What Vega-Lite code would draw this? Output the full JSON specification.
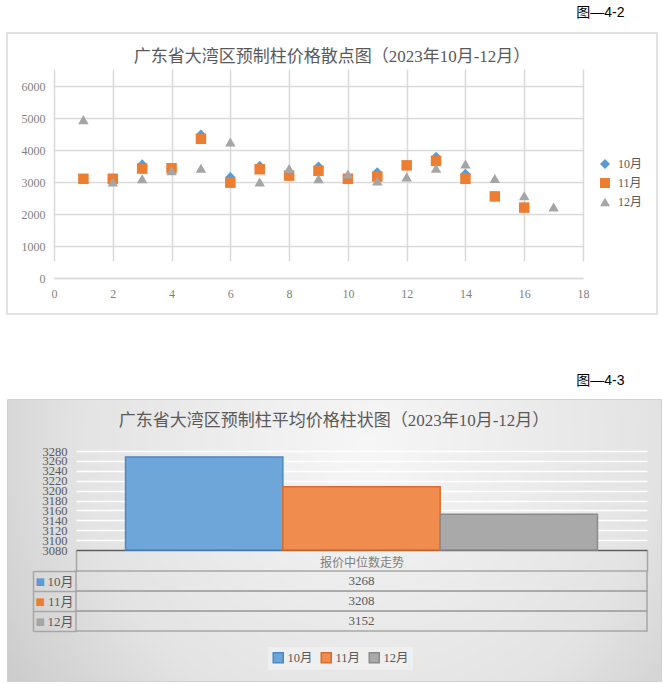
{
  "$schema": "https://vega.github.io/schema/vega-lite/v6.json",
  "background": "white",
  "padding": {"left": 6, "top": 6, "right": 0, "bottom": 0},
  "title": {
    "text": "图—4-2",
    "anchor": "end",
    "frame": "bounds",
    "dx": -37,
    "offset": 12,
    "font": "Liberation Sans, Noto Sans CJK SC",
    "fontSize": 14,
    "fontWeight": "normal",
    "color": "#000000"
  },
  "spacing": 58,
  "resolve": {
    "scale": {"color": "independent", "shape": "independent", "stroke": "independent"},
    "legend": {"color": "independent", "shape": "independent"}
  },
  "vconcat": [
    {
      "width": 650,
      "height": 281,
      "view": {"fill": "white", "stroke": "#d9d9d9", "strokeWidth": 1.5},
      "title": {
        "text": "广东省大湾区预制柱价格散点图（2023年10月-12月）",
        "anchor": "middle",
        "frame": "group",
        "offset": -33,
        "font": "Liberation Serif, Noto Sans CJK SC",
        "fontSize": 17,
        "fontWeight": "normal",
        "color": "#595959"
      },
      "data": {
        "values": [
          {"month": "10月", "x": 1, "price": 3100},
          {"month": "10月", "x": 2, "price": 3100},
          {"month": "10月", "x": 3, "price": 3550},
          {"month": "10月", "x": 4, "price": 3430},
          {"month": "10月", "x": 5, "price": 4480},
          {"month": "10月", "x": 6, "price": 3150},
          {"month": "10月", "x": 7, "price": 3500},
          {"month": "10月", "x": 8, "price": 3200},
          {"month": "10月", "x": 9, "price": 3480},
          {"month": "10月", "x": 10, "price": 3150},
          {"month": "10月", "x": 11, "price": 3300},
          {"month": "10月", "x": 12, "price": 3520},
          {"month": "10月", "x": 13, "price": 3780},
          {"month": "10月", "x": 14, "price": 3250},
          {"month": "10月", "x": 15, "price": 2550},
          {"month": "10月", "x": 16, "price": 2200},
          {"month": "11月", "x": 1, "price": 3100},
          {"month": "11月", "x": 2, "price": 3100},
          {"month": "11月", "x": 3, "price": 3420},
          {"month": "11月", "x": 4, "price": 3430},
          {"month": "11月", "x": 5, "price": 4350},
          {"month": "11月", "x": 6, "price": 2980},
          {"month": "11月", "x": 7, "price": 3400},
          {"month": "11月", "x": 8, "price": 3200},
          {"month": "11月", "x": 9, "price": 3350},
          {"month": "11月", "x": 10, "price": 3100},
          {"month": "11月", "x": 11, "price": 3170},
          {"month": "11月", "x": 12, "price": 3520},
          {"month": "11月", "x": 13, "price": 3660},
          {"month": "11月", "x": 14, "price": 3100},
          {"month": "11月", "x": 15, "price": 2550},
          {"month": "11月", "x": 16, "price": 2200},
          {"month": "12月", "x": 1, "price": 4950},
          {"month": "12月", "x": 2, "price": 3000},
          {"month": "12月", "x": 3, "price": 3100},
          {"month": "12月", "x": 4, "price": 3350},
          {"month": "12月", "x": 5, "price": 3430},
          {"month": "12月", "x": 6, "price": 4250},
          {"month": "12月", "x": 7, "price": 3000},
          {"month": "12月", "x": 8, "price": 3420},
          {"month": "12月", "x": 9, "price": 3100},
          {"month": "12月", "x": 10, "price": 3250},
          {"month": "12月", "x": 11, "price": 3030},
          {"month": "12月", "x": 12, "price": 3160},
          {"month": "12月", "x": 13, "price": 3430},
          {"month": "12月", "x": 14, "price": 3560},
          {"month": "12月", "x": 15, "price": 3110},
          {"month": "12月", "x": 16, "price": 2570},
          {"month": "12月", "x": 17, "price": 2220}
        ]
      },
      "mark": {"type": "point", "filled": true, "opacity": 1, "size": 110},
      "encoding": {
        "x": {
          "field": "x",
          "type": "quantitative",
          "scale": {"domain": [0, 18], "range": [47, 576], "nice": false},
          "axis": {
            "orient": "bottom",
            "offset": -36,
            "title": null,
            "values": [0, 2, 4, 6, 8, 10, 12, 14, 16, 18],
            "format": "d",
            "domain": true,
            "domainColor": "#d9d9d9",
            "domainWidth": 1.5,
            "ticks": false,
            "grid": true,
            "gridColor": "#d9d9d9",
            "gridWidth": 1.5,
            "labelPadding": 10,
            "labelFlush": false,
            "labelFont": "Liberation Serif",
            "labelFontSize": 12,
            "labelColor": "#7f7f7f"
          }
        },
        "y": {
          "field": "price",
          "type": "quantitative",
          "scale": {"domain": [0, 6000], "range": [245, 53], "nice": false},
          "axis": {
            "orient": "left",
            "offset": -47,
            "title": null,
            "values": [0, 1000, 2000, 3000, 4000, 5000, 6000],
            "format": "d",
            "domain": false,
            "ticks": false,
            "grid": true,
            "gridColor": "#d9d9d9",
            "gridWidth": 1.5,
            "labelPadding": 9,
            "labelFlush": false,
            "labelFont": "Liberation Serif",
            "labelFontSize": 12,
            "labelColor": "#7f7f7f"
          }
        },
        "color": {
          "field": "month",
          "type": "nominal",
          "scale": {"domain": ["10月", "11月", "12月"], "range": ["#5b9bd5", "#ed7d31", "#a5a5a5"]},
          "legend": {
            "orient": "none",
            "direction": "vertical",
            "legendX": 592,
            "legendY": 125,
            "title": null,
            "symbolSize": 100,
            "rowPadding": 7,
            "labelOffset": 7,
            "labelFont": "Liberation Serif, Noto Sans CJK SC",
            "labelFontSize": 12,
            "labelColor": "#595959"
          }
        },
        "shape": {
          "field": "month",
          "type": "nominal",
          "scale": {"domain": ["10月", "11月", "12月"], "range": ["diamond", "square", "triangle-up"]},
          "legend": {
            "orient": "none",
            "direction": "vertical",
            "legendX": 592,
            "legendY": 125,
            "title": null,
            "symbolSize": 100,
            "rowPadding": 7,
            "labelOffset": 7,
            "labelFont": "Liberation Serif, Noto Sans CJK SC",
            "labelFontSize": 12,
            "labelColor": "#595959"
          }
        }
      }
    },
    {
      "title": {
        "text": "图—4-3",
        "anchor": "end",
        "frame": "bounds",
        "dx": -37,
        "offset": 5,
        "font": "Liberation Sans, Noto Sans CJK SC",
        "fontSize": 14,
        "fontWeight": "normal",
        "color": "#000000"
      },
      "vconcat": [
        {
          "width": 654,
          "height": 282,
          "view": {
            "fill": {
              "gradient": "radial",
              "x1": 0.55, "y1": 0.35, "r1": 0,
              "x2": 0.55, "y2": 0.35, "r2": 0.8,
              "stops": [
                {"offset": 0, "color": "#f6f6f6"},
                {"offset": 0.55, "color": "#e3e3e3"},
                {"offset": 1, "color": "#bcbcbc"}
              ]
            },
            "stroke": "#d0d0d0"
          },
          "title": {
            "text": "广东省大湾区预制柱平均价格柱状图（2023年10月-12月）",
            "anchor": "middle",
            "frame": "group",
            "offset": -37,
            "font": "Liberation Serif, Noto Sans CJK SC",
            "fontSize": 17,
            "fontWeight": "normal",
            "color": "#595959"
          },
          "data": {
            "values": [
              {"cat": "报价中位数走势", "month": "10月", "value": 3268},
              {"cat": "报价中位数走势", "month": "11月", "value": 3208},
              {"cat": "报价中位数走势", "month": "12月", "value": 3152}
            ]
          },
          "encoding": {
            "x": {
              "field": "cat",
              "type": "nominal",
              "scale": {"range": [69, 640], "paddingInner": 0, "paddingOuter": 0},
              "axis": {
                "orient": "bottom",
                "offset": -131,
                "title": null,
                "labelAngle": 0,
                "domain": true,
                "domainColor": "#595959",
                "domainWidth": 1.5,
                "ticks": true,
                "tickBand": "extent",
                "tickSize": 21,
                "tickColor": "#a6a6a6",
                "tickWidth": 1.5,
                "grid": false,
                "labelPadding": -9,
                "labelBaseline": "middle",
                "labelFont": "Noto Sans CJK SC",
                "labelFontSize": 12,
                "labelColor": "#7f7f7f"
              }
            }
          },
          "layer": [
            {
              "mark": {"type": "bar", "strokeWidth": 1.5},
              "encoding": {
                "xOffset": {
                  "field": "month",
                  "type": "nominal",
                  "sort": ["10月", "11月", "12月"],
                  "scale": {"paddingInner": 0, "paddingOuter": 0.315}
                },
                "y": {
                  "field": "value",
                  "type": "quantitative",
                  "scale": {"domain": [3080, 3280], "range": [151, 52], "nice": false, "zero": false},
                  "axis": {
                    "orient": "left",
                    "offset": -69,
                    "title": null,
                    "values": [3080, 3100, 3120, 3140, 3160, 3180, 3200, 3220, 3240, 3260, 3280],
                    "format": "d",
                    "domain": false,
                    "ticks": false,
                    "grid": true,
                    "gridColor": "#ffffff",
                    "gridWidth": 1.5,
                    "labelPadding": 9,
                    "labelOverlap": false,
                    "labelFlush": false,
                    "labelFont": "Liberation Serif",
                    "labelFontSize": 12.5,
                    "labelColor": "#595959"
                  }
                },
                "y2": {"datum": 3080},
                "color": {
                  "field": "month",
                  "type": "nominal",
                  "scale": {"domain": ["10月", "11月", "12月"], "range": ["#6fa6da", "#ef8c4e", "#a9a9a9"]},
                  "legend": {
                    "orient": "none",
                    "legendX": 261,
                    "legendY": 248,
                    "direction": "horizontal",
                    "title": null,
                    "fillColor": "#efefef",
                    "padding": 4,
                    "symbolType": "square",
                    "symbolSize": 100,
                    "symbolStrokeWidth": 1.5,
                    "symbolStrokeColor": "#7f7f7f",
                    "columnPadding": 5,
                    "labelOffset": 3,
                    "labelFont": "Liberation Serif, Noto Sans CJK SC",
                    "labelFontSize": 12.5,
                    "labelColor": "#595959"
                  }
                },
                "stroke": {
                  "field": "month",
                  "type": "nominal",
                  "scale": {"domain": ["10月", "11月", "12月"], "range": ["#4a87c4", "#d96c2c", "#8a8a8a"]},
                  "legend": null
                }
              }
            },
            {
              "mark": {"type": "rect", "fill": "transparent", "stroke": "#a6a6a6", "strokeWidth": 1.5},
              "encoding": {
                "y": {
                  "field": "month",
                  "type": "nominal",
                  "sort": ["10月", "11月", "12月"],
                  "scale": {"domain": ["10月", "11月", "12月"], "range": [172, 232], "paddingInner": 0, "paddingOuter": 0},
                  "axis": {
                    "orient": "left",
                    "offset": -69,
                    "title": null,
                    "domain": false,
                    "ticks": true,
                    "tickBand": "extent",
                    "tickSize": 43,
                    "tickColor": "#a6a6a6",
                    "tickWidth": 1.5,
                    "grid": false,
                    "labelPadding": -40,
                    "labelBaseline": "middle",
                    "labelFont": "Liberation Serif, Noto Sans CJK SC",
                    "labelFontSize": 13,
                    "labelColor": "#595959"
                  }
                }
              }
            },
            {
              "mark": {"type": "text", "font": "Liberation Serif", "fontSize": 13, "color": "#595959"},
              "encoding": {
                "y": {
                  "field": "month",
                  "type": "nominal",
                  "sort": ["10月", "11月", "12月"],
                  "scale": {"domain": ["10月", "11月", "12月"], "range": [172, 232], "paddingInner": 0, "paddingOuter": 0},
                  "axis": {
                    "orient": "left",
                    "offset": -26,
                    "title": null,
                    "domain": true,
                    "domainColor": "#a6a6a6",
                    "domainWidth": 1.5,
                    "ticks": false,
                    "tickSize": 0,
                    "grid": false,
                    "labelExpr": "'■'",
                    "labelAlign": "left",
                    "labelPadding": -2,
                    "labelBaseline": "middle",
                    "labelFont": "DejaVu Sans",
                    "labelFontSize": 10,
                    "labelColor": {
                      "condition": [
                        {"test": "datum.value == '10月'", "value": "#5b9bd5"},
                        {"test": "datum.value == '11月'", "value": "#ed7d31"}
                      ],
                      "value": "#a5a5a5"
                    }
                  }
                },
                "text": {"field": "value", "type": "quantitative", "format": "d"}
              }
            }
          ],
          "resolve": {"scale": {"y": "independent"}}
        }
      ]
    }
  ]
}
